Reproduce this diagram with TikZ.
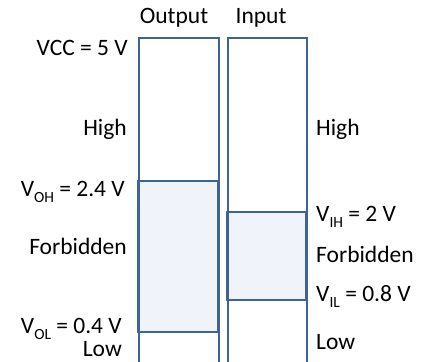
\documentclass[tikz,border=0pt]{standalone}
\usepackage{fontspec}
\setmainfont{Carlito}
\usepackage{xcolor}
\definecolor{lvlLine}{RGB}{62, 100, 150}
\definecolor{lvlFill}{RGB}{240, 244, 250}
\usetikzlibrary{positioning}
\newcommand{\lvlSub}[1]{\raisebox{-0.28em}{\fontsize{15.5}{18}\selectfont #1}}

\begin{document}
\begin{tikzpicture}[
    x=1pt, y=-1pt,
    gateBox/.style={
        rectangle, draw=lvlLine, line width=1.9pt,
        minimum width=80pt, minimum height=345pt,
        anchor=north west, inner sep=0pt
    },
    forbidBand/.style={
        draw=lvlLine, line width=1.9pt, fill=lvlFill
    },
    lvlText/.style={
        font=\fontsize{23.5}{28}\selectfont, inner sep=0pt
    },
    leftText/.style={lvlText, anchor=base east},
    rightText/.style={lvlText, anchor=base west}
]
    \useasboundingbox (0,0) rectangle (424,362);

    % Forbidden regions
    \draw[forbidBand] (138,181) rectangle (218,332);
    \draw[forbidBand] (227,212) rectangle (306,300);

    % Output and Input columns
    \node[gateBox] (outBox) at (138,37) {};
    \node[gateBox, minimum width=79pt] (inBox) at (227,37) {};

    % Column headers
    \node[lvlText, anchor=base] (outHead) at (174,23) {Output};
    \node[lvlText, anchor=base] (inHead) at (261,23) {Input};

    % Output levels
    \node[leftText] (vcc) at (128,55) {VCC = 5 V};
    \node[leftText] (outHigh) at (127,135) {High};
    \node[leftText] (voh) at (125,196) {V\lvlSub{OH} = 2.4 V};
    \node[leftText] (outForbid) at (127,254) {Forbidden};
    \node[leftText] (vol) at (122,333) {V\lvlSub{OL} = 0.4 V};
    \node[leftText] (outLow) at (122,356) {Low};

    % Input levels
    \node[rightText] (inHigh) at (316,135) {High};
    \node[rightText] (vih) at (316,221) {V\lvlSub{IH} = 2 V};
    \node[rightText] (inForbid) at (316,262) {Forbidden};
    \node[rightText] (vil) at (316,301) {V\lvlSub{IL} = 0.8 V};
    \node[rightText] (inLow) at (316,349) {Low};

\end{tikzpicture}
\end{document}
